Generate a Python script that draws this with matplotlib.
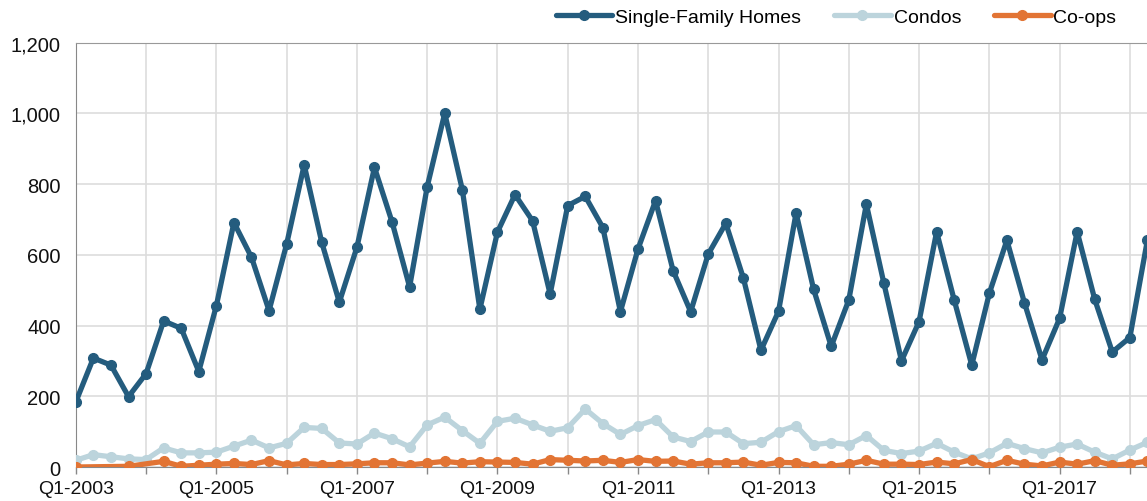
import matplotlib
matplotlib.use('Agg')
import matplotlib.pyplot as plt
import numpy as np

plt.rcParams['font.family'] = ['Liberation Sans', 'DejaVu Sans']

# Quarterly sales, Q1-2003 .. Q2-2018
quarters = [f'Q{q}-{y}' for y in range(2003, 2019) for q in range(1, 5)][:62]

single_family = [184, 308, 288, 199, 264, 413, 392, 270, 456, 691,
                 593, 442, 630, 854, 635, 466, 621, 847, 693, 509,
                 792, 1000, 784, 446, 664, 770, 696, 489, 739, 765,
                 677, 439, 616, 753, 555, 439, 602, 689, 534, 330,
                 440, 718, 502, 341, 472, 743, 519, 300, 411, 665,
                 472, 288, 491, 641, 464, 303, 420, 665, 474, 325,
                 366, 642]
condos = [19, 35, 29, 23, 21, 54, 40, 40, 42, 59,
          76, 54, 67, 112, 109, 68, 65, 96, 80, 57,
          119, 141, 103, 67, 129, 138, 119, 101, 111, 164,
          123, 92, 117, 134, 85, 72, 99, 99, 66, 70,
          100, 117, 63, 69, 63, 89, 47, 38, 45, 67,
          42, 23, 40, 67, 52, 40, 56, 65, 42, 23,
          48, 70]
# None = quarter with no reported co-op figure
coops = [0, None, None, 2, None, 16, 2, 5, 8, 10,
         7, 18, 6, 10, 7, 7, 9, 12, 12, 6,
         11, 16, 11, 15, 14, 13, 8, 21, 19, 17,
         19, 13, 21, 16, 17, 8, 12, 12, 14, 5,
         13, 12, 2, 2, 8, 19, 8, 8, 7, 14,
         9, 21, 1, 19, 8, 3, 14, 8, 18, 5,
         9, 17]

series_names = ['Single-Family Homes', 'Condos', 'Co-ops']
colors = ['#245c7e', '#bcd4dc', '#e27434']

x = np.arange(len(quarters))

fig = plt.figure(figsize=(11.47, 5.02), dpi=100)
# axes runs a bit past the right edge, the source chart is cropped there
ax = fig.add_axes([0.0661, 0.0677, 0.945, 0.8456])

lw, ms = 3.8, 7
style = dict(lw=lw, marker='o', ms=ms, solid_joinstyle='round',
             solid_capstyle='round')
l_sf, = ax.plot(x, single_family, color=colors[0], zorder=5, **style)
l_co, = ax.plot(x, condos, color=colors[1], zorder=3, **style)
cx = np.array([i for i, v in enumerate(coops) if v is not None])
cy = np.array([v for v in coops if v is not None])
l_cp, = ax.plot(cx, cy, color=colors[2], zorder=4, **style)

ax.set_xlim(0, 61.7)
ax.set_ylim(0, 1200)
ax.set_yticks(np.arange(0, 1201, 200))
ax.set_yticklabels([f'{v:,}' for v in range(0, 1201, 200)])
ax.set_xticks(x[::4])
ax.set_xticklabels([q if i % 8 == 0 else '' for i, q in zip(x[::4], quarters[::4])])

ax.grid(True, color='#dddddd', lw=1.2, zorder=0)
ax.set_axisbelow(True)
ax.spines['right'].set_visible(False)
ax.spines['top'].set_color('#999999')
ax.spines['left'].set_color('#888888')
ax.spines['bottom'].set_color('#888888')
ax.tick_params(axis='y', length=0, pad=11, labelsize=14.5, colors='#111111')
ax.tick_params(axis='x', length=5, width=1, color='#888888', pad=4,
               labelsize=14, labelcolor='#111111')

fig.legend([l_sf, l_co, l_cp], series_names, loc='center',
           bbox_to_anchor=(0.729, 0.964), ncol=3, frameon=False,
           fontsize=14, handlelength=2.9, handletextpad=0.15,
           columnspacing=1.7, numpoints=1)

fig.savefig('out.png', dpi=100)
